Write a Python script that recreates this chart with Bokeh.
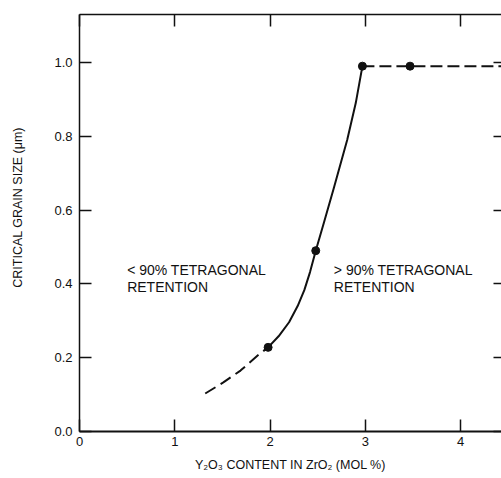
from bokeh.plotting import figure
from bokeh.models import (LinearAxis, FixedTicker, Range1d, PrintfTickFormatter,
                          CustomLabelingPolicy)
from bokeh.core.properties import value
from bokeh.embed import file_html
from bokeh.resources import INLINE

# ---- data ----
low_x = [1.32, 1.51, 1.69, 1.87, 1.98]
low_y = [0.103, 0.133, 0.165, 0.206, 0.228]
rise_x = [1.98, 2.09, 2.20, 2.29, 2.36, 2.42, 2.48, 2.57, 2.67, 2.81, 2.90, 2.97]
rise_y = [0.228, 0.258, 0.296, 0.340, 0.383, 0.432, 0.49, 0.57, 0.66, 0.79, 0.89, 0.99]
plateau_x = [2.97, 3.47, 4.6]
plateau_y = [0.99, 0.99, 0.99]
pts_x = [1.98, 2.48, 2.97, 3.47]
pts_y = [0.228, 0.49, 0.99, 0.99]

x_ticks = [0, 1, 2, 3, 4]
y_ticks = [0.0, 0.2, 0.4, 0.6, 0.8, 1.0]

region_x = [0.50, 2.67]
region_y = [0.458, 0.458]
region_text = ["< 90% TETRAGONAL\nRETENTION", "> 90% TETRAGONAL\nRETENTION"]

x_title = "Y\u2082O\u2083 CONTENT IN ZrO\u2082 (MOL %)"
y_title = "\u00a0" * 9 + "CRITICAL GRAIN SIZE (\u03bcm)"

FONT = "Liberation Sans"
INK = "#111111"

p = figure(width=501, height=478, output_backend="svg", toolbar_location=None,
           x_range=Range1d(0, 4.43), y_range=Range1d(0, 1.13),
           min_border_left=79, min_border_right=0, min_border_top=14,
           min_border_bottom=47, x_axis_label=x_title, y_axis_label=y_title)
p.xgrid.visible = False
p.ygrid.visible = False
p.outline_line_color = None
p.background_fill_color = "white"
p.border_fill_color = "white"

for ax, ticks in ((p.xaxis[0], x_ticks), (p.yaxis[0], y_ticks)):
    ax.ticker = FixedTicker(ticks=ticks)
    ax.major_tick_in = 12
    ax.major_tick_out = 0
    ax.minor_tick_line_color = None
    ax.major_tick_line_color = INK
    ax.major_tick_line_width = 1.5
    ax.axis_line_color = INK
    ax.major_label_text_font = FONT
    ax.major_label_text_font_size = "13px"
    ax.major_label_text_color = INK
    ax.axis_label_text_font = FONT
    ax.axis_label_text_font_size = "12.5px"
    ax.axis_label_text_font_style = "normal"
    ax.axis_label_text_color = INK

p.yaxis[0].formatter = PrintfTickFormatter(format="%.1f")
p.xaxis[0].axis_line_width = 2
p.yaxis[0].axis_line_width = 1.5
p.xaxis[0].major_label_standoff = 5
p.xaxis[0].axis_label_standoff = 9
p.yaxis[0].major_label_standoff = 7
p.yaxis[0].axis_label_standoff = 26

no_labels = "for (const i of indices) { indices.unset(i) }\nreturn indices"

top = LinearAxis(ticker=FixedTicker(ticks=x_ticks), major_tick_in=12, major_tick_out=0,
                 minor_tick_line_color=None, major_label_standoff=0,
                 major_label_text_font_size="0px",
                 major_label_policy=CustomLabelingPolicy(code=no_labels),
                 axis_line_color=INK, axis_line_width=1.5,
                 major_tick_line_color=INK, major_tick_line_width=1.5)
p.add_layout(top, "above")
right = LinearAxis(ticker=FixedTicker(ticks=y_ticks), major_tick_in=8, major_tick_out=0,
                   minor_tick_line_color=None, major_label_standoff=0,
                   major_label_text_font_size="0px",
                   major_label_policy=CustomLabelingPolicy(code=no_labels),
                   axis_line_color=None,
                   major_tick_line_color=INK, major_tick_line_width=1.5)
p.add_layout(right, "right")

p.line(low_x, low_y, line_color=INK, line_width=2, line_dash="12 6")
p.line(rise_x, rise_y, line_color=INK, line_width=2)
p.line(plateau_x, plateau_y, line_color=INK, line_width=2, line_dash="12 5")
p.scatter(pts_x, pts_y, size=8, fill_color=INK, line_color=INK)

p.text(region_x, region_y, text=region_text, text_font=value(FONT),
       text_font_size="14px", text_color=INK, text_baseline="top",
       text_align="left", text_line_height=1.05)

open("out.html", "w").write(file_html(p, INLINE))
